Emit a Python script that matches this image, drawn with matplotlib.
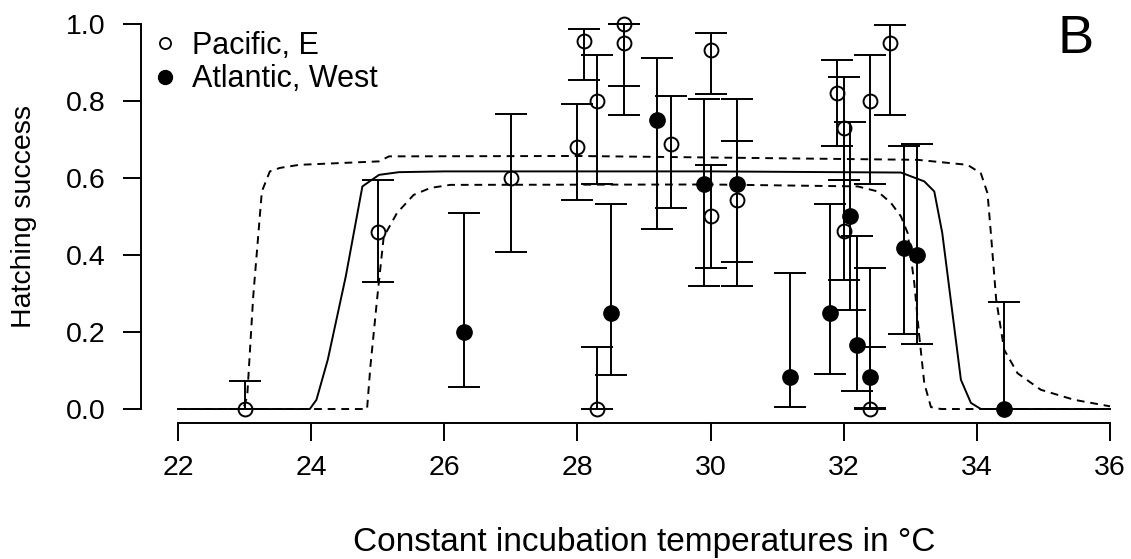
import matplotlib
matplotlib.use("Agg")
import matplotlib.pyplot as plt
from matplotlib.lines import Line2D
import numpy as np

plt.rcParams['font.family'] = ['Liberation Sans', 'DejaVu Sans']

# Pacific, E (open circles)
pac_temp = [23.0, 25.0, 27.0, 28.0, 28.1, 28.3, 28.3, 28.7, 28.7, 29.4,
            30.0, 30.0, 30.4, 31.9, 32.0, 32.0, 32.4, 32.4, 32.7]
pac_hs = [0.0, 0.46, 0.60, 0.68, 0.955, 0.80, 0.0, 1.0, 0.95, 0.687,
          0.933, 0.50, 0.543, 0.82, 0.73, 0.462, 0.80, 0.0, 0.951]
pac_lo = [0.0, 0.33, 0.407, 0.543, 0.853, 0.584, 0.0, 0.839, 0.764, 0.521,
          0.818, 0.367, 0.381, 0.682, 0.595, 0.335, 0.585, 0.0, 0.764]
pac_hi = [0.072, 0.595, 0.766, 0.792, 0.988, 0.92, 0.161, 1.0, 1.0, 0.814,
          0.977, 0.633, 0.696, 0.905, 0.863, 0.595, 0.92, 0.162, 0.998]

# Atlantic, West (filled circles)
atl_temp = [26.3, 28.5, 29.2, 29.9, 30.4, 31.2, 31.8, 32.1, 32.2, 32.4,
            32.9, 33.1, 34.4]
atl_hs = [0.20, 0.25, 0.751, 0.584, 0.584, 0.084, 0.25, 0.50, 0.167, 0.084,
          0.417, 0.40, 0.0]
atl_lo = [0.057, 0.089, 0.468, 0.32, 0.32, 0.005, 0.091, 0.258, 0.048, 0.002,
          0.195, 0.169, 0.0]
atl_hi = [0.51, 0.533, 0.911, 0.806, 0.806, 0.354, 0.533, 0.746, 0.448, 0.365,
          0.682, 0.688, 0.278]

# fitted model (solid) and its confidence limits (dashed)
fit_t = [22.0, 23.98, 24.08, 24.25, 24.52, 24.77, 25.02, 25.32, 26.0, 30.0,
         32.86, 33.21, 33.36, 33.48, 33.76, 33.91, 34.06, 36.0]
fit_y = [0.0, 0.0, 0.024, 0.128, 0.344, 0.578, 0.608, 0.615, 0.617, 0.617,
         0.614, 0.591, 0.565, 0.457, 0.076, 0.016, 0.0, 0.0]

up_t = [22.0, 22.98, 23.04, 23.13, 23.26, 23.38, 23.53, 23.82, 25.02, 25.17,
        28.0, 33.11, 33.86, 34.06, 34.16, 34.21, 34.29, 34.41, 34.61, 34.96,
        35.46, 36.0]
up_y = [0.0, 0.0, 0.033, 0.292, 0.565, 0.617, 0.626, 0.634, 0.643, 0.656,
        0.657, 0.647, 0.634, 0.612, 0.56, 0.457, 0.284, 0.154, 0.093, 0.05,
        0.024, 0.007]

lo_t = [22.0, 24.84, 24.89, 24.99, 25.09, 25.29, 25.54, 25.79, 26.09, 30.0,
        32.21, 32.51, 32.71, 32.86, 32.96, 33.06, 33.13, 33.21, 33.31, 33.46, 36.0]
lo_y = [0.0, 0.0, 0.11, 0.284, 0.447, 0.509, 0.556, 0.574, 0.582, 0.583,
        0.578, 0.565, 0.535, 0.5, 0.457, 0.327, 0.197, 0.067, 0.005, 0.0, 0.0]

fig = plt.figure(figsize=(11.31, 5.59), dpi=100)
ax = fig.add_axes([0.1244, 0.2428, 0.8756, 0.7572])

ax.plot(fit_t, fit_y, color='black', lw=1.4)
ax.plot(up_t, up_y, color='black', lw=1.4, dashes=(4, 3))
ax.plot(lo_t, lo_y, color='black', lw=1.4, dashes=(4, 3))

pac_hs = np.array(pac_hs)
atl_hs = np.array(atl_hs)
ax.errorbar(pac_temp, pac_hs, yerr=[pac_hs - np.array(pac_lo), np.array(pac_hi) - pac_hs],
            fmt='o', ms=10, mfc='none', mec='black', mew=1.4, ecolor='black',
            elinewidth=1.4, capsize=11.5, capthick=1.4, clip_on=False)
ax.errorbar(atl_temp, atl_hs, yerr=[atl_hs - np.array(atl_lo), np.array(atl_hi) - atl_hs],
            fmt='o', ms=11, mfc='black', mec='black', ecolor='black',
            elinewidth=1.4, capsize=11.5, capthick=1.4, clip_on=False)

ax.set_xlim(21.44, 36.315)
ax.set_ylim(-0.037, 1.062)
ax.spines['top'].set_visible(False)
ax.spines['right'].set_visible(False)
ax.spines['left'].set_bounds(0, 1)
ax.spines['bottom'].set_bounds(22, 36)
for s in ('left', 'bottom'):
    ax.spines[s].set_linewidth(1.4)
ax.set_xticks(np.arange(22, 37, 2))
ax.set_yticks(np.arange(0, 1.01, 0.2))
ax.set_yticklabels(['0.0', '0.2', '0.4', '0.6', '0.8', '1.0'])
ax.tick_params(axis='both', labelsize=20.5, length=13, width=1.4)
ax.tick_params(axis='y', pad=12)
ax.tick_params(axis='x', pad=10)

fig.text(0.57, 0.03, 'Constant incubation temperatures in °C', fontsize=24,
         ha='center', va='center')
fig.text(0.021, 0.613, 'Hatching success', fontsize=20.5, rotation=90,
         ha='center', va='center')
fig.text(0.951, 0.93, 'B', fontsize=39, ha='center', va='center')

handles = [Line2D([], [], ls='none', marker='o', ms=8, mfc='none', mec='black', mew=1.3),
           Line2D([], [], ls='none', marker='o', ms=10, mfc='black', mec='black')]
ax.legend(handles, ['Pacific, E', 'Atlantic, West'], loc='upper left',
          bbox_to_anchor=(0.135, 0.945), bbox_transform=fig.transFigure,
          frameon=False, fontsize=22, handlelength=0.8, handletextpad=0.5,
          labelspacing=0.12, borderpad=0, borderaxespad=0)

fig.savefig('out.png', dpi=100)
